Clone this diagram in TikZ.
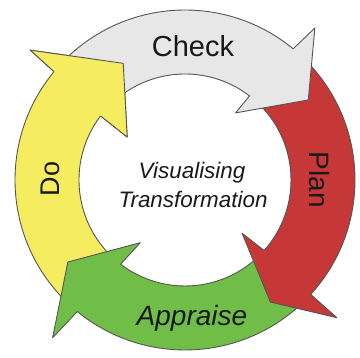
\documentclass[tikz,border=0pt]{standalone}
\usepackage{fontspec}
\setmainfont{Liberation Sans}
\definecolor{edgegray}{RGB}{85,85,85}
\definecolor{ink}{RGB}{25,25,25}
\definecolor{checkfill}{RGB}{231,231,231}
\definecolor{planfill}{RGB}{197,56,55}
\definecolor{appraisefill}{RGB}{112,190,72}
\definecolor{dofill}{RGB}{246,236,96}
\begin{document}
\begin{tikzpicture}[
  band/.style={draw=edgegray, line width=0.9pt, line join=round},
  lbl/.style={text=ink, inner sep=0pt},
]
\useasboundingbox (-185pt,-178pt) rectangle (175pt,180pt);

% Do (yellow), lower left up to the top left
\path[band, fill=dofill]
  (-135:170pt) arc[start angle=-135, end angle=-219.6, radius=170pt]
  -- (-220:202pt) -- (-242.1:132pt) -- (-216.6:72pt) -- (-217.2:106pt)
  arc[start angle=-217.2, end angle=-135, radius=106pt] -- cycle;

% Appraise (green), bottom
\path[band, fill=appraisefill]
  (-47:170pt) arc[start angle=-47, end angle=-129.3, radius=170pt]
  -- (-130:206pt) -- (-145:143pt) -- (-125.5:77pt) -- (-127.4:106pt)
  arc[start angle=-127.4, end angle=-47, radius=106pt] -- cycle;

% Plan (red), right side
\path[band, fill=planfill]
  (45:170pt) arc[start angle=45, end angle=-42.3, radius=170pt]
  -- (-42.2:205pt) -- (-55:149pt) -- (-43:78pt) -- (-41.7:106pt)
  arc[start angle=-41.7, end angle=45, radius=106pt] -- cycle;

% Check (grey), top
\path[band, fill=checkfill]
  (135:170pt) arc[start angle=135, end angle=50.5, radius=170pt]
  -- (49.5:200pt) -- (33:147pt) -- (53:84pt) -- (52.5:106pt)
  arc[start angle=52.5, end angle=135, radius=106pt] -- cycle;

% head of the Do arrow again, so that it lies over the tail of Check
\fill[dofill] (140.4:170pt) -- (140:202pt) -- (117.9:132pt) -- (143.4:72pt) -- (142.8:106pt) -- cycle;
\draw[band] (140.4:170pt) -- (140:202pt) -- (117.9:132pt) -- (143.4:72pt) -- (142.8:106pt);

% labels
\node[lbl, anchor=base, font=\fontsize{29}{29}\selectfont] (check) at (8pt,123pt) {Check};
\node[lbl, rotate=-90, font=\fontsize{28}{28}\selectfont] (plan) at (135pt,0pt) {Plan};
\node[lbl, rotate=90, font=\fontsize{27}{27}\selectfont] (do) at (-135pt,1pt) {Do};
\node[lbl, anchor=base, font=\fontsize{28}{28}\selectfont\itshape] (appraise) at (7pt,-146pt) {Appraise};
\node[lbl, anchor=base, font=\fontsize{22.4}{22.4}\selectfont\itshape] (visualising) at (7pt,1pt) {Visualising};
\node[lbl, anchor=base, font=\fontsize{22.4}{22.4}\selectfont\itshape] (transformation) at (8pt,-28pt) {Transformation};
\end{tikzpicture}
\end{document}
